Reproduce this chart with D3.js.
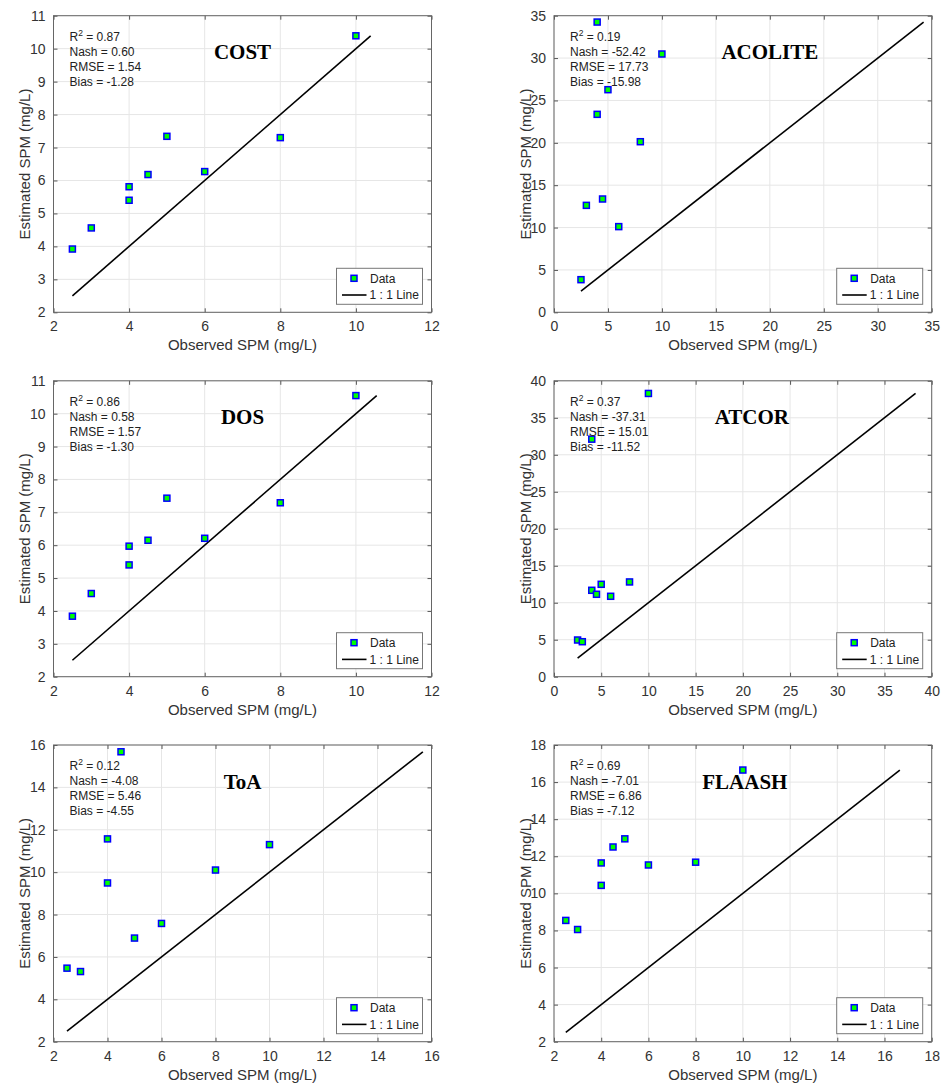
<!DOCTYPE html>
<html>
<head>
<meta charset="utf-8">
<script src="https://cdn.jsdelivr.net/npm/d3@7"></script>
<style>
  html, body { margin: 0; padding: 0; background: #fff; }
  svg { display: block; }
</style>
</head>
<body>
<svg id="chart" width="946" height="1084"></svg>
<script>
// ---------------- DATA ----------------
const methods = ["COST", "ACOLITE", "DOS", "ATCOR", "ToA", "FLAASH"];
const observed = [2.5, 3, 4, 4, 4.5, 5, 6, 8, 10];
const estCOST    = [3.92, 4.56, 5.40, 5.81, 6.18, 7.34, 6.27, 7.30, 10.39];
const estACOLITE = [3.85, 12.62, 34.25, 23.36, 13.37, 26.27, 10.11, 20.13, 30.48];
const estDOS     = [3.84, 4.53, 5.40, 5.97, 6.15, 7.43, 6.21, 7.29, 10.55];
const estATCOR   = [4.96, 4.73, 11.68, 32.11, 11.14, 12.49, 10.87, 12.81, 38.29];
const estToA     = [5.47, 5.31, 11.57, 9.49, 15.68, 6.89, 7.58, 10.10, 11.30];
const estFLAASH  = [8.54, 8.05, 11.64, 10.43, 12.50, 12.94, 11.53, 11.68, 16.65];
const r2   = ["0.87", "0.19", "0.86", "0.37", "0.12", "0.69"];
const nash = ["0.60", "-52.42", "0.58", "-37.31", "-4.08", "-7.01"];
const rmse = ["1.54", "17.73", "1.57", "15.01", "5.46", "6.86"];
const bias = ["-1.28", "-15.98", "-1.30", "-11.52", "-4.55", "-7.12"];
const xDomains = [[2, 12], [0, 35], [2, 12], [0, 40], [2, 16], [2, 18]];
const yDomains = [[2, 11], [0, 35], [2, 11], [0, 40], [2, 16], [2, 18]];
const xTickStep = [2, 5, 2, 5, 2, 2];
const yTickStep = [1, 5, 1, 5, 2, 2];
const xLabel = "Observed SPM (mg/L)";
const yLabel = "Estimated SPM (mg/L)";
const legendLabels = ["Data", "1 : 1 Line"];

const estimates = [estCOST, estACOLITE, estDOS, estATCOR, estToA, estFLAASH];

// ---------------- LAYOUT ----------------
const colLeft = [53.5, 554];
const colRight = [431.5, 931.7];
const rowTop = [15.7, 380.8, 745];
const rowBottom = [312.3, 676.7, 1041.7];
const titleDx = [0, 27, 0, 9, 0, 2];

const svg = d3.select("#chart");
const fontSans = "'Liberation Sans', Arial, sans-serif";
const fontSerif = "'Liberation Serif', 'Times New Roman', serif";

methods.forEach((name, i) => {
  const col = i % 2, row = Math.floor(i / 2);
  const L = colLeft[col], R = colRight[col], T = rowTop[row], B = rowBottom[row];
  const W = R - L, H = B - T;
  const g = svg.append("g").attr("transform", `translate(${L},${T})`);

  const x = d3.scaleLinear().domain(xDomains[i]).range([0, W]);
  const y = d3.scaleLinear().domain(yDomains[i]).range([H, 0]);
  const xt = d3.range(xDomains[i][0], xDomains[i][1] + 1e-9, xTickStep[i]);
  const yt = d3.range(yDomains[i][0], yDomains[i][1] + 1e-9, yTickStep[i]);

  // background
  g.append("rect").attr("width", W).attr("height", H).attr("fill", "#fff");

  // grid
  g.append("g").selectAll("line").data(xt).join("line")
    .attr("x1", d => x(d)).attr("x2", d => x(d)).attr("y1", 0).attr("y2", H)
    .attr("stroke", "#e6e6e6").attr("stroke-width", 1);
  g.append("g").selectAll("line").data(yt).join("line")
    .attr("y1", d => y(d)).attr("y2", d => y(d)).attr("x1", 0).attr("x2", W)
    .attr("stroke", "#e6e6e6").attr("stroke-width", 1);

  // axes
  const xAxis = g.append("g").attr("transform", `translate(0,${H})`)
    .call(d3.axisBottom(x).tickValues(xt).tickSizeInner(-4).tickSizeOuter(0).tickPadding(9).tickFormat(d3.format("d")));
  const yAxis = g.append("g")
    .call(d3.axisLeft(y).tickValues(yt).tickSizeInner(-4).tickSizeOuter(0).tickPadding(8).tickFormat(d3.format("d")));
  [xAxis, yAxis].forEach(a => {
    a.select(".domain").remove();
    a.selectAll(".tick line").attr("stroke", "#555");
    a.selectAll(".tick text").attr("font-family", fontSans).attr("font-size", 14).attr("fill", "#333");
  });
  // top/right ticks
  g.append("g").call(d3.axisTop(x).tickValues(xt).tickSizeInner(-4).tickSizeOuter(0).tickFormat(""))
    .call(a => { a.select(".domain").remove(); a.selectAll(".tick line").attr("stroke", "#555"); });
  g.append("g").attr("transform", `translate(${W},0)`)
    .call(d3.axisRight(y).tickValues(yt).tickSizeInner(-4).tickSizeOuter(0).tickFormat(""))
    .call(a => { a.select(".domain").remove(); a.selectAll(".tick line").attr("stroke", "#555"); });

  // box
  g.append("rect").attr("width", W).attr("height", H)
    .attr("fill", "none").attr("stroke", "#666").attr("stroke-width", 1);

  // 1:1 line
  const est = estimates[i];
  const all = observed.concat(est);
  const lo = d3.min(all), hi = d3.max(all);
  g.append("line")
    .attr("x1", x(lo)).attr("y1", y(lo)).attr("x2", x(hi)).attr("y2", y(hi))
    .attr("stroke", "#000").attr("stroke-width", 1.6);

  // points
  g.append("g").selectAll("rect").data(observed.map((o, k) => [o, est[k]])).join("rect")
    .attr("x", d => x(d[0]) - 3).attr("y", d => y(d[1]) - 3)
    .attr("width", 6).attr("height", 6)
    .attr("fill", "#00ff00").attr("stroke", "#0000ff").attr("stroke-width", 1.5);

  // stats text
  const st = g.append("text").attr("font-family", fontSans).attr("font-size", 12).attr("fill", "#222");
  const sx = 16, sy = 25, lh = 15.1;
  const t1 = st.append("tspan").attr("x", sx).attr("y", sy);
  t1.append("tspan").text("R");
  t1.append("tspan").attr("font-size", 8.5).attr("dy", -5).text("2");
  t1.append("tspan").attr("dy", 5).text(" = " + r2[i]);
  st.append("tspan").attr("x", sx).attr("y", sy + lh).text("Nash = " + nash[i]);
  st.append("tspan").attr("x", sx).attr("y", sy + 2 * lh).text("RMSE = " + rmse[i]);
  st.append("tspan").attr("x", sx).attr("y", sy + 3 * lh).text("Bias = " + bias[i]);

  // title
  g.append("text").attr("x", W / 2 + titleDx[i]).attr("y", 43.5)
    .attr("text-anchor", "middle").attr("font-family", fontSerif)
    .attr("font-weight", "bold").attr("font-size", 21).attr("fill", "#000")
    .text(name);

  // legend
  const lw = 86, lhgt = 36;
  const lg = g.append("g").attr("transform", `translate(${W - 9 - lw},${H - 8 - lhgt})`);
  lg.append("rect").attr("width", lw).attr("height", lhgt)
    .attr("fill", "#fff").attr("stroke", "#777").attr("stroke-width", 1);
  lg.append("rect").attr("x", 17.5 - 3).attr("y", 10 - 3).attr("width", 6).attr("height", 6)
    .attr("fill", "#00ff00").attr("stroke", "#0000ff").attr("stroke-width", 1.5);
  lg.append("text").attr("x", 33.5).attr("y", 14.5)
    .attr("font-family", fontSans).attr("font-size", 12).attr("fill", "#222").text(legendLabels[0]);
  lg.append("line").attr("x1", 5.5).attr("x2", 30).attr("y1", 26.7).attr("y2", 26.7)
    .attr("stroke", "#000").attr("stroke-width", 1.6);
  lg.append("text").attr("x", 33).attr("y", 31)
    .attr("font-family", fontSans).attr("font-size", 12).attr("fill", "#222").text(legendLabels[1]);

  // axis labels
  g.append("text").attr("x", W / 2).attr("y", H + 38)
    .attr("text-anchor", "middle").attr("font-family", fontSans).attr("font-size", 15)
    .attr("fill", "#333").text(xLabel);
  g.append("text").attr("transform", `translate(${-29},${H / 2}) rotate(-90)`)
    .attr("text-anchor", "middle").attr("dominant-baseline", "central")
    .attr("font-family", fontSans).attr("font-size", 15)
    .attr("fill", "#333").text(yLabel);
});
</script>
</body>
</html>
